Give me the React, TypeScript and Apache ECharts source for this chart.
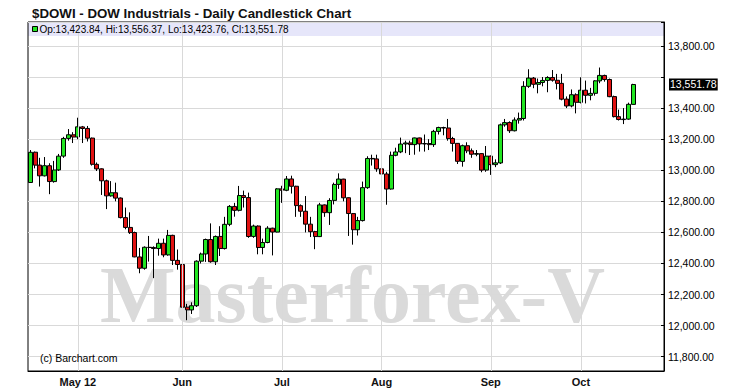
import React, { useEffect, useRef } from 'react';
import * as echarts from 'echarts';

const titleText = '$DOWI - DOW Industrials - Daily Candlestick Chart';
const watermarkText = 'Masterforex-V';
const creditText = '(c) Barchart.com';

const dates = [
  '04-17','04-18','04-19','04-20','04-23','04-24','04-25','04-26','04-27','04-30',
  '05-01','05-02','05-03','05-04','05-07','05-08','05-09','05-10','05-11','05-14','05-15','05-16','05-17','05-18','05-21','05-22','05-23','05-24','05-25','05-29','05-30','05-31',
  '06-01','06-04','06-05','06-06','06-07','06-08','06-11','06-12','06-13','06-14','06-15','06-18','06-19','06-20','06-21','06-22','06-25','06-26','06-27','06-28','06-29',
  '07-02','07-03','07-05','07-06','07-09','07-10','07-11','07-12','07-13','07-16','07-17','07-18','07-19','07-20','07-23','07-24','07-25','07-26','07-27','07-30','07-31',
  '08-01','08-02','08-03','08-06','08-07','08-08','08-09','08-10','08-13','08-14','08-15','08-16','08-17','08-20','08-21','08-22','08-23','08-24','08-27','08-28','08-29','08-30','08-31',
  '09-04','09-05','09-06','09-07','09-10','09-11','09-12','09-13','09-14','09-17','09-18','09-19','09-20','09-21','09-24','09-25','09-26','09-27','09-28',
  '10-01','10-02','10-03','10-04','10-05','10-08','10-09','10-10','10-11','10-12','10-15','10-16'
];
const padDates = ['10-17','10-18','10-19','10-22','10-23','10-24'];

const opens = [
  12921,13116,13033,12964,13029,12927,13002,13091,13205,13228,
  13214,13279,13269,13207,13038,13009,12932,12835,12855,12821,
  12695,12632,12599,12442,12369,12504,12503,12496,12530,12455,
  12581,12420,12393,12119,12101,12128,12415,12461,12554,12411,
  12574,12496,12652,12767,12742,12837,12824,12574,12641,12503,
  12535,12627,12602,12880,12871,12944,12897,12772,12736,12653,
  12605,12573,12777,12727,12806,12909,12943,12823,12721,12617,
  12676,12888,13076,13073,13009,12976,12879,13096,13118,13169,
  13176,13165,13208,13169,13172,13165,13250,13275,13272,13204,
  13173,13057,13158,13125,13103,13107,13001,13091,13036,13047,
  13292,13307,13254,13323,13333,13540,13593,13553,13565,13578,
  13597,13579,13559,13458,13414,13486,13437,13515,13482,13495,
  13575,13610,13584,13474,13345,13326,13329,13423.84
];
const highs = [
  13130,13120,13080,13085,13045,13060,13105,13215,13265,13245,
  13338,13285,13285,13210,13050,13012,12940,12930,12920,12825,
  12760,12729,12605,12500,12510,12577,12510,12560,12560,12616,
  12585,12490,12395,12140,12150,12420,12470,12560,12658,12580,
  12640,12700,12776,12790,12899,12869,12856,12650,12645,12560,
  12640,12630,12885,12900,12963,12965,12900,12780,12834,12700,
  12610,12790,12780,12820,12920,12980,12945,12825,12725,12700,
  12927,13090,13100,13100,13050,12990,13120,13145,13210,13190,
  13190,13210,13210,13230,13200,13260,13280,13280,13330,13215,
  13175,13165,13180,13140,13130,13110,13156,13095,13070,13300,
  13330,13315,13340,13371,13573,13650,13600,13590,13600,13605,
  13645,13620,13620,13475,13520,13495,13598,13577,13530,13580,
  13661,13615,13590,13480,13390,13400,13435,13556.37
];
const lows = [
  12921,13012,12895,12960,12846,12920,12995,13080,13190,13175,
  13200,13175,13185,13030,12995,12841,12750,12830,12800,12690,
  12620,12590,12440,12337,12360,12412,12306,12450,12440,12450,
  12390,12360,12107,12035,12075,12120,12400,12410,12405,12390,
  12448,12490,12640,12701,12735,12760,12565,12565,12459,12459,
  12530,12452,12600,12790,12865,12850,12700,12700,12600,12570,
  12492,12570,12700,12648,12780,12880,12800,12577,12521,12580,
  12670,12880,13030,12990,12950,12778,12875,13090,13110,13110,
  13098,13100,13120,13120,13130,13150,13230,13225,13190,13120,
  13040,13023,13110,13080,13090,12987,12990,12970,13020,13040,
  13280,13240,13250,13300,13320,13530,13528,13495,13540,13502,
  13570,13520,13450,13400,13405,13366,13430,13430,13450,13480,
  13560,13570,13470,13340,13320,13297,13325,13423.76
];
const closes = [
  13115.54,13032.75,12964.10,13029.26,12927.17,13001.56,13090.72,13204.62,13228.31,13213.63,
  13279.32,13268.57,13206.59,13038.27,13008.53,12932.09,12835.06,12855.04,12820.60,12695.35,
  12632.00,12598.55,12442.49,12369.38,12504.48,12502.81,12496.15,12529.75,12454.83,12580.69,
  12419.86,12393.45,12118.57,12101.46,12127.95,12414.79,12460.96,12554.20,12411.23,12573.80,
  12496.38,12651.91,12767.17,12741.82,12837.33,12824.39,12573.57,12640.78,12502.66,12534.67,
  12627.01,12602.26,12880.09,12871.39,12943.82,12896.67,12772.47,12736.29,12653.12,12604.53,
  12573.27,12777.09,12727.21,12805.54,12908.70,12943.36,12822.57,12721.46,12617.32,12676.05,
  12887.93,13075.66,13073.01,13008.68,12976.13,12878.88,13096.17,13117.51,13168.60,13175.64,
  13165.19,13207.95,13169.43,13172.14,13164.78,13250.11,13275.20,13271.64,13203.58,13172.76,
  13057.46,13157.97,13124.67,13102.99,13107.48,13000.71,13090.84,13035.94,13047.48,13292.00,
  13306.64,13254.29,13323.36,13333.35,13539.86,13593.37,13553.10,13564.64,13577.96,13596.93,
  13579.47,13558.92,13457.55,13413.51,13485.97,13437.13,13515.11,13482.36,13494.61,13575.36,
  13610.15,13583.65,13473.53,13344.97,13326.39,13328.85,13424.23,13551.78
];

const monthStarts = ['05-01', '06-01', '07-02', '08-01', '09-04', '10-01'];
const monthLabels = ['May 12', 'Jun', 'Jul', 'Aug', 'Sep', 'Oct'];
const yMin = 11708;
const yMax = 13954;
const yStep = 200;

const fmt = (v: number) =>
  v.toLocaleString('en-US', { minimumFractionDigits: 2, maximumFractionDigits: 2 });

export default function App() {
  const ref = useRef<HTMLDivElement>(null);
  useEffect(() => {
    if (!ref.current) return;
    document.body.style.margin = '0';
    const chart = echarts.init(ref.current, null, { renderer: 'svg' });
    const font = '"Liberation Sans", Arial, sans-serif';
    const n = closes.length - 1;
    const last = closes[n];
    const legendText = `Op:${fmt(opens[n])}, Hi:${fmt(highs[n])}, Lo:${fmt(lows[n])}, Cl:${fmt(closes[n])}`;
    const cats = dates.concat(padDates);
    const green = '#22e622';
    const red = '#e01212';

    chart.setOption({
      animation: false,
      backgroundColor: '#ffffff',
      title: {
        text: titleText,
        left: 27,
        top: 2,
        textStyle: { fontFamily: font, fontSize: 13.3, fontWeight: 'bold', color: '#111' },
      },
      grid: {
        left: 28,
        right: 70,
        top: 22,
        bottom: 18,
        show: true,
        borderColor: '#000',
        borderWidth: 1,
        backgroundColor: 'transparent',
      },
      xAxis: {
        type: 'category',
        data: cats,
        boundaryGap: true,
        axisLine: { show: true, lineStyle: { color: '#000' } },
        axisTick: { show: false },
        splitLine: { show: false },
        axisLabel: {
          interval: (_i: number, v: string) => monthStarts.includes(v),
          formatter: (v: string) => {
            const k = monthStarts.indexOf(v);
            return k >= 0 ? monthLabels[k] : '';
          },
          fontFamily: font,
          fontWeight: 'bold',
          fontSize: 11,
          color: '#111',
          margin: 5,
        },
      },
      yAxis: {
        type: 'value',
        position: 'right',
        min: yMin,
        max: yMax,
        splitNumber: 11,
        axisLine: { show: true, lineStyle: { color: '#000' } },
        axisTick: { show: true, inside: true, length: 3, lineStyle: { color: '#000' } },
        axisLabel: {
          formatter: (v: number) =>
            Math.abs(v % yStep) < 1e-6 && Math.abs(v - last) > 70 ? fmt(v) : '',
          margin: 4,
          fontFamily: font,
          fontSize: 10.5,
          color: '#000',
        },
        splitLine: { show: true, lineStyle: { color: '#d9d9d9', width: 1 } },
      },
      graphic: [
        {
          type: 'rect',
          z: -1,
          shape: { x: 28, y: 22, width: 636, height: 14 },
          style: { fill: '#e6e6fa' },
          silent: true,
        },
        {
          type: 'rect',
          z: 10,
          shape: { x: 32.5, y: 26.5, width: 5, height: 5 },
          style: { fill: green, stroke: '#000', lineWidth: 1 },
          silent: true,
        },
        {
          type: 'text',
          z: 10,
          x: 39.5,
          y: 29.5,
          style: {
            text: legendText,
            font: `10px ${font}`,
            fill: '#000',
            verticalAlign: 'middle',
          },
          silent: true,
        },
        {
          type: 'text',
          z: 0,
          x: 100,
          y: 295,
          style: {
            text: watermarkText,
            font: 'bold 80px "Liberation Serif", "Times New Roman", serif',
            fill: '#dadada',
            verticalAlign: 'middle',
          },
          silent: true,
        },
        {
          type: 'text',
          z: 10,
          x: 40,
          y: 358,
          style: {
            text: creditText,
            font: `10.5px ${font}`,
            fill: '#000',
            verticalAlign: 'middle',
          },
          silent: true,
        },
      ],
      series: [
        {
          type: 'line',
          data: closes,
          showSymbol: false,
          symbol: 'none',
          lineStyle: { opacity: 0 },
          silent: true,
          z: 1,
          markLine: {
            silent: true,
            symbol: ['none', 'none'],
            label: { show: false },
            lineStyle: { color: '#d9d9d9', type: 'solid', width: 1 },
            data: monthStarts.map((d) => ({ xAxis: d })),
          },
        },
        {
          type: 'candlestick',
          data: dates.map((_d, i) => [opens[i], closes[i], lows[i], highs[i]]),
          barWidth: 4.5,
          z: 3,
          itemStyle: {
            color: green,
            color0: red,
            borderColor: '#000',
            borderColor0: '#000',
            borderWidth: 1,
          },
        },
      ],
    });

    // current-price tag on the right axis, placed through the axis scale
    const py = chart.convertToPixel({ yAxisIndex: 0 }, last) as number;
    chart.setOption({
      graphic: [
        {
          id: 'priceTag',
          type: 'text',
          z: 20,
          x: 669,
          y: py,
          style: {
            text: fmt(last),
            font: `10.5px ${font}`,
            fill: '#fff',
            backgroundColor: '#000',
            padding: [1, 1, 0, 1],
            verticalAlign: 'middle',
          },
          silent: true,
        },
      ],
    });
    return () => chart.dispose();
  }, []);

  return <div ref={ref} style={{ width: 734, height: 389 }} />;
}
